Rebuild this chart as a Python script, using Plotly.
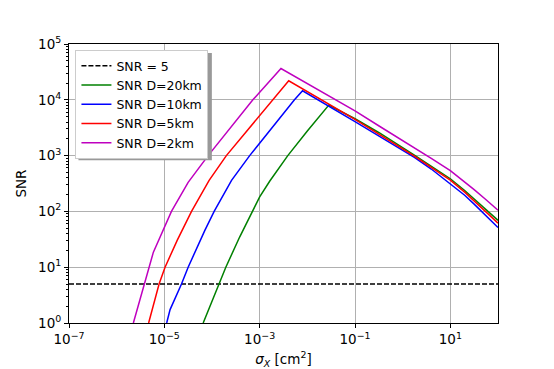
import plotly.graph_objects as go

# sigma_X [cm^2] and SNR values
sigma_2km = [2.24e-6, 5.89e-6, 1.41e-5, 3.16e-5, 8.3e-5, 7.2e-4, 2.8e-3,
             0.1, 0.32, 1.76, 3.98, 10, 20, 31.6, 56.2, 100]
snr_2km = [1.0, 18.6, 100, 331, 1000, 1.0e4, 3.63e4,
           6310, 3390, 1396, 891, 537, 339, 245, 162, 105]

sigma_5km = [4.68e-6, 7.76e-6, 1.035e-5, 1.86e-5, 3.72e-5, 8.7e-5, 2.0e-4, 1.86e-3, 4.07e-3,
             0.1, 0.32, 1.76, 3.98, 10, 20, 31.6, 56.2, 100]
snr_5km = [1.0, 5.0, 10, 30.2, 100, 359, 1000, 1.0e4, 2.19e4,
           4470, 2430, 977, 617, 363, 221, 155, 100, 61.7]

sigma_10km = [1.12e-5, 1.32e-5, 2.29e-5, 3.16e-5, 7.08e-5, 1.11e-4, 2.57e-4, 6.17e-4, 5.37e-3, 7.94e-3,
              0.1, 0.32, 1.76, 3.98, 10, 20, 31.6, 56.2, 100]
snr_10km = [1.0, 1.74, 5.0, 10, 45.7, 100, 359, 1000, 1.0e4, 1.45e4,
            4070, 2240, 933, 575, 316, 195, 135, 85, 51.3]

sigma_20km = [6.53e-5, 1.38e-4, 1.95e-4, 3.8e-4, 7.08e-4, 1.0e-3, 1.62e-3, 2.51e-3, 3.89e-3, 0.01, 2.82e-2,
              0.1, 0.32, 1.76, 3.98, 10, 20, 31.6, 56.2, 100]
snr_20km = [1.0, 5.0, 10, 34.7, 100, 182, 347, 589, 1000, 2750, 8040,
            4570, 2570, 1023, 646, 385, 237, 168, 110, 69.2]

snr_threshold = 5
x_range = [1e-7, 1e2]

x_tickvals = [1e-7, 1e-5, 1e-3, 1e-1, 1e1]
x_ticktext = ["10<sup>−7</sup>", "10<sup>−5</sup>", "10<sup>−3</sup>", "10<sup>−1</sup>", "10<sup>1</sup>"]
y_tickvals = [1, 10, 100, 1000, 1e4, 1e5]
y_ticktext = ["10<sup>0</sup>", "10<sup>1</sup>", "10<sup>2</sup>", "10<sup>3</sup>", "10<sup>4</sup>", "10<sup>5</sup>"]

fig = go.Figure()

# Slenkstis SNR = 5
fig.add_trace(go.Scatter(
    x=x_range, y=[snr_threshold, snr_threshold],
    mode="lines", name="SNR = 5",
    line=dict(color="black", width=1.3, dash="5px,2px")
))

curves = [
    ("SNR D=20km", sigma_20km, snr_20km, "#008000"),
    ("SNR D=10km", sigma_10km, snr_10km, "#0000ff"),
    ("SNR D=5km", sigma_5km, snr_5km, "#ff0000"),
    ("SNR D=2km", sigma_2km, snr_2km, "#bf00bf"),
]
for name, xs, ys, color in curves:
    fig.add_trace(go.Scatter(
        x=xs, y=ys, mode="lines", name=name,
        line=dict(color=color, width=1.5)
    ))

# legend shadow
fig.add_shape(
    type="rect", xref="paper", yref="paper",
    x0=0.022, x1=0.333, y0=0.583, y1=0.968,
    fillcolor="#999999", line=dict(width=0), layer="above"
)

# the page body adds 8px, so the figure is 8px smaller than the window
fig.update_layout(
    width=546, height=361,
    margin=dict(l=61, r=56, t=36, b=46),
    paper_bgcolor="white", plot_bgcolor="white",
    font=dict(family="DejaVu Sans", size=13.5, color="black"),
    showlegend=True,
    legend=dict(
        x=0.015, y=0.978, xanchor="left", yanchor="top",
        bgcolor="white", bordercolor="#cccccc", borderwidth=1,
        font=dict(size=12.5), tracegroupgap=0,
        itemwidth=30
    )
)

fig.update_xaxes(
    type="log", range=[-7, 2], automargin=False,
    tickvals=x_tickvals, ticktext=x_ticktext,
    ticks="outside", ticklen=4, tickcolor="black",
    showline=True, linecolor="black", linewidth=1, mirror=True,
    showgrid=True, gridcolor="#b0b0b0", gridwidth=1,
    zeroline=False,
    title=dict(text="<i>σ<sub>X</sub></i> [cm<sup>2</sup>]", font=dict(size=13.5), standoff=8)
)
fig.update_yaxes(
    type="log", range=[0, 5], automargin=False,
    tickvals=y_tickvals, ticktext=y_ticktext,
    ticks="outside", ticklen=4, tickcolor="black",
    minor=dict(ticks="outside", ticklen=2, tickcolor="black", dtick="D1", showgrid=False),
    showline=True, linecolor="black", linewidth=1, mirror=True,
    showgrid=True, gridcolor="#b0b0b0", gridwidth=1,
    zeroline=False,
    title=dict(text="SNR", font=dict(size=13.5), standoff=8)
)

fig.write_html("out.html")
